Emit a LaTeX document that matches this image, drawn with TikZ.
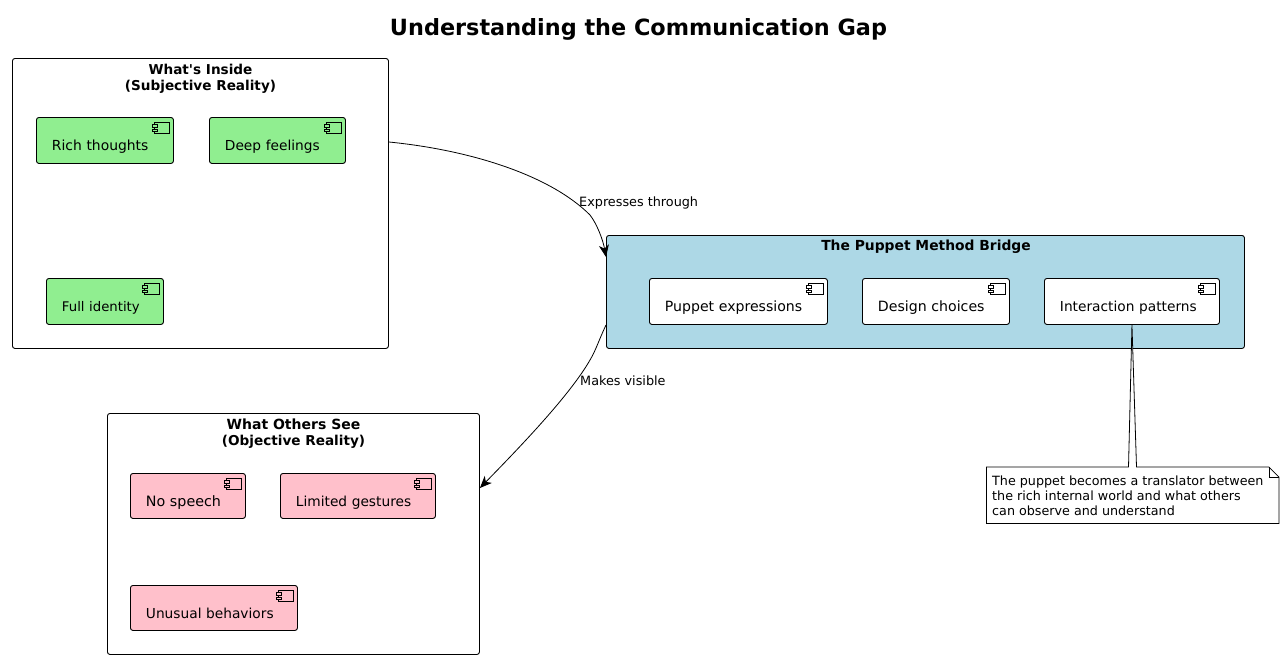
\documentclass[tikz,border=0pt]{standalone}
\usepackage{fontspec}
\setmainfont{DejaVu Sans}[Ligatures=TeXOff]
\usetikzlibrary{arrows.meta,calc}
\definecolor{lgreen}{HTML}{90EE90}
\definecolor{lblue}{HTML}{ADD8E6}
\definecolor{lpink}{HTML}{FFC0CB}
\newcommand{\fs}[1]{\fontsize{#1}{16}\selectfont}
\tikzset{
  x=1pt,y=-1pt,
  outline/.style={draw=black,line width=0.9pt,rounded corners=2.5pt},
  clusterbox/.style={outline,inner sep=0pt,anchor=north west},
  compbox/.style={outline,inner ysep=0pt,inner xsep=0pt,anchor=north west,align=left,font=\fontsize{13.75}{16}\selectfont},
  clustertitle/.style={font=\fontsize{13.6}{16}\selectfont\bfseries,align=center,inner sep=0pt},
  edgelabel/.style={font=\fontsize{12.8}{15}\selectfont,inner sep=0pt,anchor=west},
  conn/.style={draw=black,line width=0.8pt,-{Stealth[length=12pt,width=10pt,inset=3.5pt]}},
  iconpart/.style={draw=black,line width=0.8pt},
}
\newcommand{\clusterrect}[6]{% name x1 y1 x2 y2 fill
  \node[clusterbox,fill=#6,minimum width={#4-#2},minimum height={#5-#3}] (#1) at (#2,#3) {};}
\newcommand{\compnode}[7]{% name x1 y1 x2 y2 fill text
  \node[compbox,fill=#6,minimum width={#4-#2},minimum height={#5-#3},text width={#4-#2-31},inner xsep=15.5pt] (#1) at (#2,#3)
    {\raisebox{-10.5pt}[0pt][0pt]{#7}};
  \draw[iconpart,fill=#6] ($(#1.north east)+(-19.5,5)$) rectangle ($(#1.north east)+(-4.5,16)$);
  \draw[iconpart,fill=#6] ($(#1.north east)+(-22,7.5)$) rectangle ($(#1.north east)+(-17,10)$);
  \draw[iconpart,fill=#6] ($(#1.north east)+(-22,12)$) rectangle ($(#1.north east)+(-17,14.5)$);}
\begin{document}
\begin{tikzpicture}
\useasboundingbox (0,0) rectangle (1284,659);
\fill[white] (0,0) rectangle (1284,659);
\node[font=\fontsize{22.35}{26}\selectfont\bfseries,inner sep=0pt] (title) at (638.5,29) {Understanding the Communication Gap};

\clusterrect{inside}{12}{58}{388}{348}{white}
\node[clustertitle] (insidet) at (200.5,78.5) {What's Inside\\(Subjective Reality)};
\compnode{rich}{36}{117}{173}{163}{lgreen}{{\fs{13.9}Rich thoughts}}
\compnode{deep}{209}{117}{345}{163}{lgreen}{Deep feelings}
\compnode{full}{46}{278}{163}{324}{lgreen}{{\fs{13.25}Full identity}}

\clusterrect{bridge}{606}{235}{1244}{348}{lblue}
\node[clustertitle,font=\fontsize{13.85}{16}\selectfont\bfseries] (bridget) at (926,246.5) {The Puppet Method Bridge};
\compnode{puppet}{649}{278}{827}{324}{white}{{\fs{14.1}Puppet expressions}}
\compnode{design}{862}{278}{1009}{324}{white}{{\fs{14.15}Design choices}}
\compnode{interact}{1044}{278}{1219}{324}{white}{Interaction patterns}

\clusterrect{others}{107}{413}{479}{654}{white}
\node[clustertitle] (otherst) at (293.5,433.5) {{\fs{14}What Others See}\\(Objective Reality)};
\compnode{nospeech}{130}{473}{245}{518}{lpink}{{\fs{14.3}No speech}}
\compnode{limited}{280}{473}{435}{518}{lpink}{Limited gestures}
\compnode{unusual}{130}{585}{297}{630}{lpink}{Unusual behaviors}

% connectors
\coordinate (m1) at (590,215);
\coordinate (m2) at (590,360);
\draw[conn] (inside.north east |- 0,142) .. controls (470,150) and (550,175) .. (m1)
  .. controls (597,224) and (603,240) .. (bridge.north west |- 0,257);
\draw[conn] (bridge.north west |- 0,325) .. controls (598,342) and (596,350) .. (m2)
  .. controls (570,395) and (520,447) .. (others.north east |- 0,488);
\node[edgelabel] (lab1) at (579,202.5) {Expresses through};
\node[edgelabel] (lab2) at (580,380.5) {Makes visible};

% note
\node[inner sep=0pt,minimum width=292pt,minimum height=56pt,anchor=north west] (note) at (986.5,467) {};
\draw[line width=0.8pt,fill=white] (note.north west) -- ($(note.north west)+(142,0)$) -- (interact.south) -- ($(note.north west)+(150,0)$)
  -- ($(note.north east)+(-10,0)$) -- ($(note.north east)+(0,10)$) -- (note.south east) -- (note.south west) -- cycle;
\draw[line width=0.8pt] ($(note.north east)+(-10,0)$) -- ($(note.north east)+(-10,10)$) -- ($(note.north east)+(0,10)$);
\node[inner sep=0pt,anchor=west,align=left,font=\fontsize{12.72}{15}\selectfont] (notetext) at ($(note.west)+(5.5,1)$)
  {The puppet becomes a translator between\\the rich internal world and what others\\can observe and understand};
\end{tikzpicture}
\end{document}
